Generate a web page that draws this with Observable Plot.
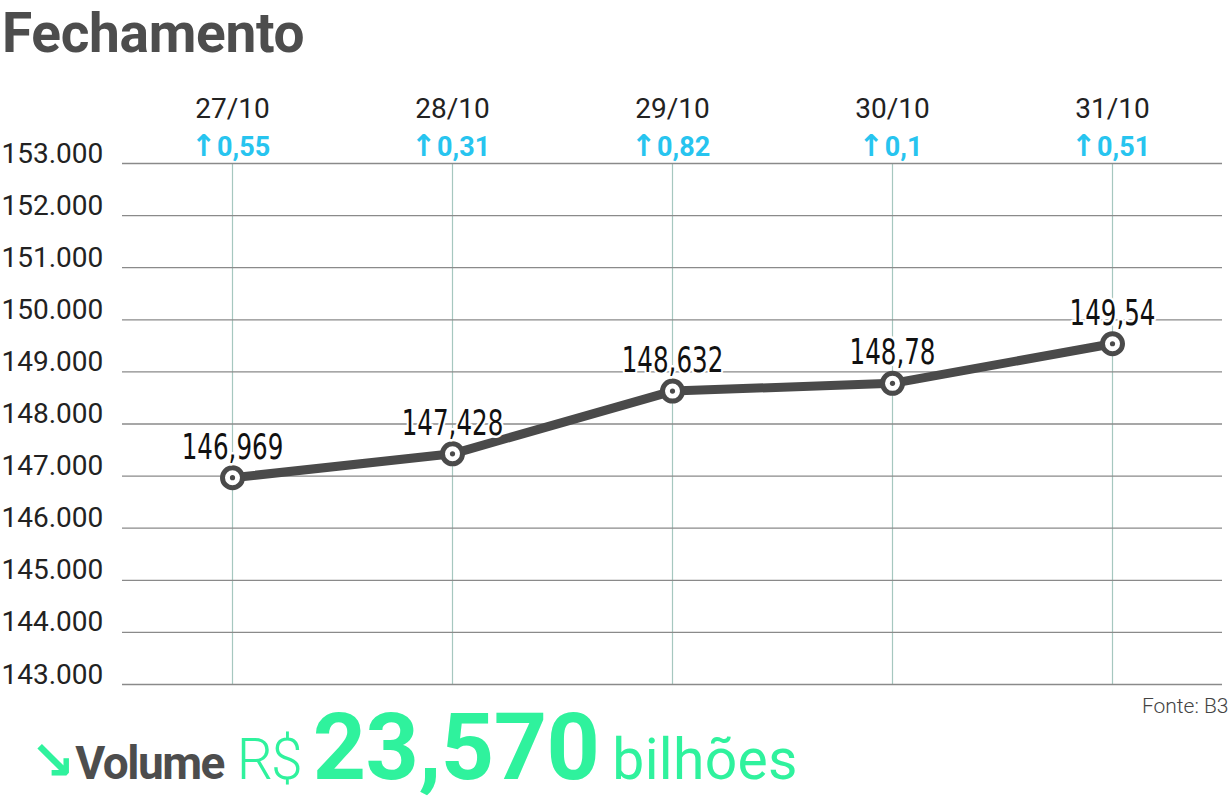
<!DOCTYPE html>
<html>
<head>
<meta charset="utf-8">
<script src="https://cdn.jsdelivr.net/npm/d3@7"></script>
<script src="https://cdn.jsdelivr.net/npm/@observablehq/plot@0.6"></script>
<style>
  html, body { margin: 0; padding: 0; background: #fff; }
  #wrap { position: relative; width: 1232px; height: 803px; overflow: hidden; font-family: Roboto, "Noto Sans", sans-serif; }
  #title { position: absolute; left: 2px; top: 2.5px; padding-right: 10px; font-size: 55px; line-height: 60px; font-weight: 700; color: #4d4d4d; letter-spacing: -0.3px; white-space: nowrap; }
  #chart { position: absolute; left: 0; top: 62px; }
  #volume { position: absolute; left: 30px; top: 693px; display: flex; align-items: baseline; white-space: nowrap; }
  #volume .arrow { font-family: "DejaVu Sans", sans-serif; font-weight: 700; font-size: 54px; color: #2ff29d; }
  #volume .lbl { font-weight: 700; font-size: 46px; color: #4d4d4d; letter-spacing: -1.5px; margin-left: 0px; }
  #volume .cur { font-weight: 300; font-size: 57px; color: #2ff29d; margin-left: 13px; letter-spacing: -2px; }
  #volume .num { font-weight: 700; font-size: 93px; color: #2ff29d; margin-left: 12px; letter-spacing: -0.5px; }
  #volume .unit { font-weight: 400; font-size: 57px; color: #2ff29d; margin-left: 13px; letter-spacing: 0.3px; }
</style>
</head>
<body>
<div id="wrap">
  <div id="title">Fechamento</div>
  <div id="chart"></div>
  <div id="volume"><span class="arrow">↘</span><span class="lbl">Volume</span><span class="cur">R$</span><span class="num">23,570</span><span class="unit">bilhões</span></div>
</div>
<script>
const dates = ["27/10", "28/10", "29/10", "30/10", "31/10"];
const closes = [146969, 147428, 148632, 148780, 149540];
const closeLabels = ["146,969", "147,428", "148,632", "148,78", "149,54"];
const changes = ["0,55", "0,31", "0,82", "0,1", "0,51"];
const yTicks = [143000, 144000, 145000, 146000, 147000, 148000, 149000, 150000, 151000, 152000, 153000];
const yTickLabels = ["143.000", "144.000", "145.000", "146.000", "147.000", "148.000", "149.000", "150.000", "151.000", "152.000", "153.000"];
const source = "Fonte: B3";

const rows = dates.map((d, i) => ({date: d, close: closes[i], label: closeLabels[i], change: changes[i]}));
const ticks = yTicks.map((v, i) => ({v, label: yTickLabels[i]}));

const lineColor = "#4a4a4a";
const condensed = "'Liberation Sans Narrow', 'DejaVu Sans Condensed', 'Roboto Condensed', sans-serif";

const chart = Plot.plot({
  width: 1232,
  height: 660,
  marginLeft: 122,
  marginRight: 10,
  marginTop: 101,
  marginBottom: 38,
  style: {fontFamily: "Roboto, 'Noto Sans', sans-serif", background: "transparent"},
  x: {type: "point", domain: dates, padding: 0.5, axis: null},
  y: {domain: [143000, 153000], axis: null},
  marks: [
    Plot.ruleX(rows, {x: "date", y1: 143000, y2: 153000, stroke: "#a6c7bf", strokeWidth: 1.2}),
    Plot.ruleY(ticks, {y: "v", stroke: "#8a8a8a", strokeWidth: 1.3}),
    Plot.text(ticks, {y: "v", text: "label", frameAnchor: "left", textAnchor: "start", lineAnchor: "bottom", dx: -121, dy: -1, fontSize: 28, fill: "#222"}),
    Plot.text(rows, {x: "date", text: "date", frameAnchor: "top", lineAnchor: "bottom", dy: -46, fontSize: 28, fill: "#222"}),
    Plot.text(rows, {x: "date", text: "change", frameAnchor: "top", lineAnchor: "bottom", dy: -8, fontSize: 27, fontWeight: 700, fill: "#27c4ef", className: "chg"}),
    Plot.line(rows, {x: "date", y: "close", stroke: lineColor, strokeWidth: 9, strokeLinejoin: "round", strokeLinecap: "round"}),
    Plot.dot(rows, {x: "date", y: "close", r: 10, stroke: lineColor, strokeWidth: 5, fill: "white"}),
    Plot.dot(rows, {x: "date", y: "close", r: 2.6, fill: lineColor}),
    Plot.text(rows, {x: "date", y: "close", text: "label", dy: -19, lineAnchor: "bottom", fontSize: 35, fontFamily: condensed, fill: "#111", stroke: "white", strokeWidth: 5, paintOrder: "stroke", className: "vlabel"}),
    Plot.text([source], {text: d => d, frameAnchor: "bottom-right", textAnchor: "end", lineAnchor: "bottom", dx: 6, dy: 28, fontSize: 21, fontWeight: 300, fill: "#444"})
  ]
});
document.getElementById("chart").appendChild(chart);

// narrow the value labels to match the condensed face of the original
d3.select(chart).selectAll(".vlabel text").each(function () {
  const w = this.getComputedTextLength();
  this.setAttribute("textLength", w * 0.78);
  this.setAttribute("lengthAdjust", "spacingAndGlyphs");
});
// add the bold up-arrow before each change value
d3.select(chart).selectAll(".chg text").each(function () {
  const t = this.textContent;
  const sel = d3.select(this);
  sel.text(null);
  sel.append("tspan").attr("font-family", "'DejaVu Sans', sans-serif").attr("font-weight", 700).attr("font-size", 30).attr("dx", -2).text("↑");
  sel.append("tspan").attr("dx", 1).text(t);
});
</script>
</body>
</html>
